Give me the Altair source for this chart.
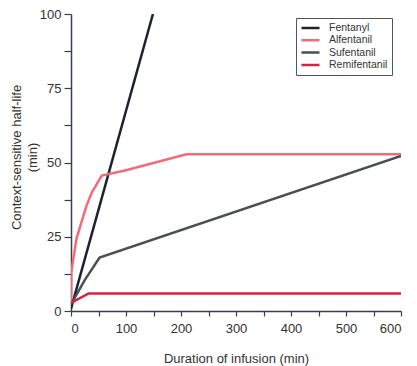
import altair as alt
import pandas as pd

drugs = ["Fentanyl", "Alfentanil", "Sufentanil", "Remifentanil"]
colors = ["#1e2230", "#f26b7a", "#4a4e58", "#d9203f"]

fentanyl_x = [0, 149]
fentanyl_y = [0.8, 100]
alfentanil_x = [0, 0.5, 10, 20, 28.5, 38, 56, 98, 210, 600]
alfentanil_y = [3, 13, 24.4, 30.5, 35.6, 40, 45.6, 47.3, 52.8, 52.8]
sufentanil_x = [0, 25, 52, 600]
sufentanil_y = [2.2, 10.4, 18, 52.2]
remifentanil_x = [0, 32, 600]
remifentanil_y = [2.7, 5.9, 5.9]

x_ticks = [0, 50, 100, 150, 200, 250, 300, 350, 400, 450, 500, 550, 600]
y_ticks = [0, 12.5, 25, 37.5, 50, 62.5, 75, 87.5, 100]

rows = []
for name, xs, ys in [
    ("Fentanyl", fentanyl_x, fentanyl_y),
    ("Alfentanil", alfentanil_x, alfentanil_y),
    ("Sufentanil", sufentanil_x, sufentanil_y),
    ("Remifentanil", remifentanil_x, remifentanil_y),
]:
    for i, (a, b) in enumerate(zip(xs, ys)):
        rows.append({"drug": name, "t": a, "h": b, "i": i})
df = pd.DataFrame(rows)

font = "Liberation Sans"

chart = alt.Chart(df).mark_line(strokeWidth=2.5, clip=True).encode(
    x=alt.X("t:Q", scale=alt.Scale(domain=[0, 600], nice=False),
            axis=alt.Axis(values=x_ticks, title="Duration of infusion (min)",
                          labelExpr="datum.value % 100 == 0 ? datum.label : ''",
                          grid=False, tickSize=5, labelPadding=6, labelFontSize=13,
                          labelFont=font, labelColor="#333", titleFont=font,
                          titleFontSize=13, titleFontWeight="normal", titleColor="#333",
                          titleBaseline="alphabetic", titleY=51,
                          domainColor="#3a3f48", tickColor="#3a3f48", domainWidth=1.5,
                          tickWidth=1.2)),
    y=alt.Y("h:Q", scale=alt.Scale(domain=[0, 100], nice=False),
            axis=alt.Axis(values=y_ticks, title=["Context-sensitive half-life", "(min)"],
                          labelExpr="datum.value % 25 == 0 ? datum.label : ''",
                          grid=False, tickSize=7, labelPadding=3, labelFontSize=13,
                          labelFont=font, labelColor="#333", titleFont=font,
                          titleFontSize=13, titleFontWeight="normal", titleColor="#333",
                          titleAngle=-90, titleAlign="center", titleBaseline="middle",
                          titleX=-55, titleY=143, titleLineHeight=16,
                          domainColor="#3a3f48", tickColor="#3a3f48", domainWidth=1.5,
                          tickWidth=1.2)),
    color=alt.Color("drug:N", sort=drugs,
                    scale=alt.Scale(domain=drugs, range=colors),
                    legend=alt.Legend(title=None, orient="none", legendX=225, legendY=4,
                                      symbolType="stroke", symbolSize=324,
                                      symbolStrokeWidth=2.5, labelFontSize=10.5,
                                      labelFont=font, labelColor="#333", clipHeight=12,
                                      labelOffset=8, rowPadding=0.3, padding=4,
                                      strokeColor="#555", fillColor="white")),
    order="i:Q",
).properties(
    width=330, height=297,
    autosize=alt.AutoSizeParams(type="none"),
    padding={"left": 63, "top": 6, "right": 8, "bottom": 55},
).configure_view(stroke=None)

chart.save("out.html", embed_options={"renderer": "svg", "actions": False})
